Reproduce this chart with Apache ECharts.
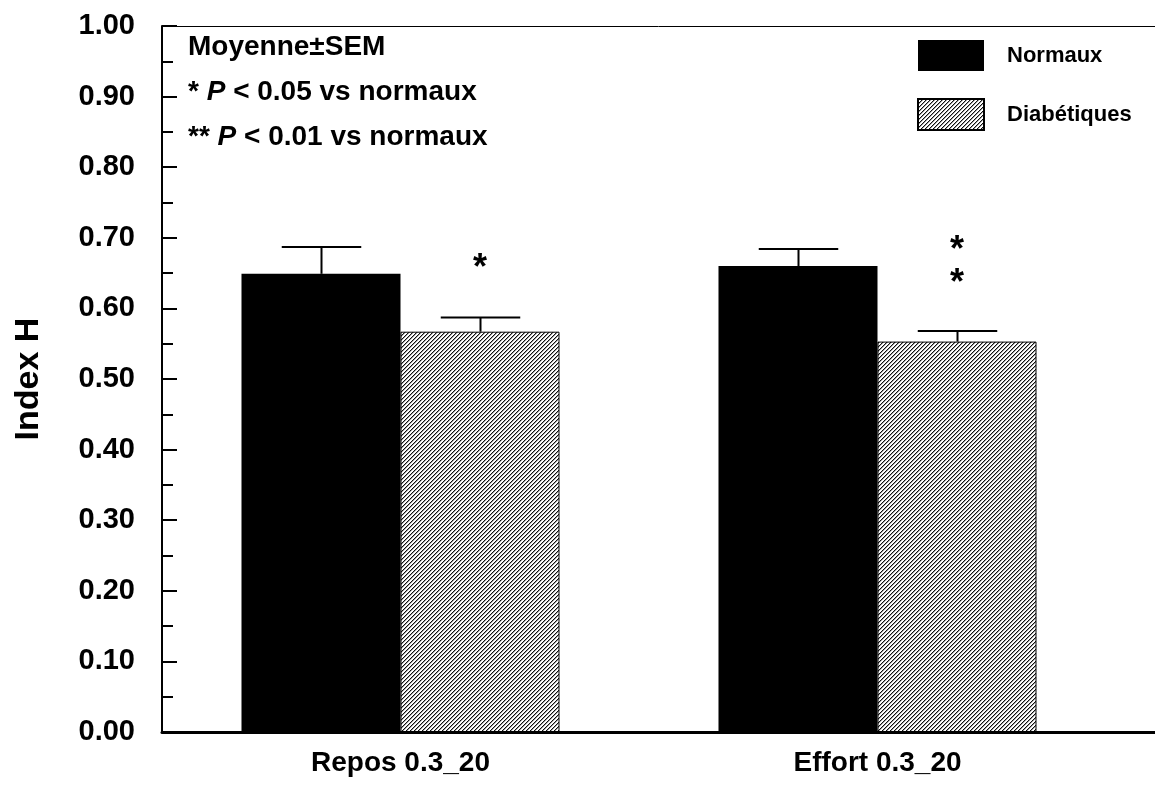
<!DOCTYPE html>
<html>
<head>
<meta charset="utf-8">
<script src="https://cdn.jsdelivr.net/npm/echarts@6/dist/echarts.min.js"></script>
<style>
html,body{margin:0;padding:0;background:#fff;}
#chart{width:1155px;height:786px;}
</style>
</head>
<body>
<div id="chart"></div>
<script>
// ---- data ----
const categories = ['Repos 0.3_20', 'Effort 0.3_20'];
const normaux = [0.649, 0.660];
const normauxSEM = [0.038, 0.024];
const diabetiques = [0.567, 0.553];
const diabetiquesSEM = [0.020, 0.015];
// significance markers: category index, y position (data units), text
const starCat = [0, 1, 1];
const starY = [0.656, 0.681, 0.635];
const starText = ['*', '*', '*'];
const notes = ['Moyenne\u00b1SEM', '* {it|P} < 0.05 vs normaux', '** {it|P} < 0.01 vs normaux'];
const yTickLabels = ['0.00','0.10','0.20','0.30','0.40','0.50','0.60','0.70','0.80','0.90','1.00'];

const FONT = '"Liberation Sans", Arial, sans-serif';

function hatch() {
  const n = 4;
  const c = document.createElement('canvas');
  c.width = n; c.height = n;
  const ctx = c.getContext('2d');
  const img = ctx.createImageData(n, n);
  for (let y = 0; y < n; y++) {
    for (let x = 0; x < n; x++) {
      const k = (x + y) % n;
      const v = k === 0 ? 15 : (k === 1 ? 160 : 255);
      const i = (y * n + x) * 4;
      img.data[i] = v; img.data[i+1] = v; img.data[i+2] = v; img.data[i+3] = 255;
    }
  }
  ctx.putImageData(img, 0, 0);
  return c;
}
const hatchPattern = { image: hatch(), repeat: 'repeat' };

function errRender(side) {
  return function (params, api) {
    const x = api.value(0), m = api.value(1), s = api.value(2);
    const band = api.size([1, 0])[0];
    const off = side * band / 6;
    const half = band / 12;
    const p0 = api.coord([x, m]);
    const p1 = api.coord([x, m + s]);
    const cx = Math.round(p0[0] + off) + 0.5;
    return {
      type: 'group',
      children: [
        { type: 'line', shape: { x1: cx, y1: p0[1], x2: cx, y2: p1[1] }, style: { stroke: '#000', lineWidth: 2 } },
        { type: 'line', shape: { x1: cx - half, y1: p1[1], x2: cx + half, y2: p1[1] }, style: { stroke: '#000', lineWidth: 2 } }
      ]
    };
  };
}

function starRender(params, api) {
  const x = api.value(0), y = api.value(1);
  const band = api.size([1, 0])[0];
  const p = api.coord([x, y]);
  return {
    type: 'text',
    x: p[0] + band / 6,
    y: p[1],
    style: {
      text: starText[params.dataIndex],
      font: 'bold 36px ' + FONT,
      fill: '#000',
      align: 'center',
      verticalAlign: 'middle'
    }
  };
}

const chart = echarts.init(document.getElementById('chart'), null, { renderer: 'canvas' });
const gridLeft = 162, gridRight = 39, gridTop = 26, gridBottom = 54;
const noteY = [47, 92, 137];

const noteGraphics = notes.map((t, i) => ({
  type: 'text',
  x: 188,
  y: noteY[i],
  style: {
    text: t,
    font: 'bold 28px ' + FONT,
    fill: '#000',
    verticalAlign: 'middle',
    rich: { it: { fontStyle: 'italic', fontWeight: 'bold', fontSize: 28, fontFamily: FONT } }
  }
}));

chart.setOption({
  animation: false,
  backgroundColor: '#fff',
  grid: { left: gridLeft, right: gridRight, top: gridTop, bottom: gridBottom, containLabel: false },
  legend: {
    orient: 'vertical',
    left: 912,
    top: 35,
    itemWidth: 66,
    itemHeight: 31,
    itemGap: 27,
    icon: 'rect',
    data: ['Normaux', 'Diabétiques'],
    textStyle: { fontFamily: FONT, fontSize: 22, fontWeight: 'bold', color: '#000', padding: [2, 0, 0, 18] }
  },
  xAxis: {
    type: 'category',
    data: categories,
    axisLine: { show: true, lineStyle: { color: '#000', width: 3 } },
    axisTick: { show: false },
    axisLabel: { fontFamily: FONT, fontSize: 28, fontWeight: 'bold', color: '#000', margin: 17 },
    splitLine: { show: false }
  },
  yAxis: {
    type: 'value',
    min: 0, max: 1, interval: 0.1,
    name: 'Index H',
    nameLocation: 'middle',
    nameGap: 116,
    nameRotate: 90,
    nameTextStyle: { fontFamily: FONT, fontSize: 34, fontWeight: 'bold', color: '#000' },
    axisLine: { show: true, lineStyle: { color: '#000', width: 2 } },
    axisTick: { show: true, inside: true, length: 15, lineStyle: { color: '#000', width: 2 } },
    minorTick: { show: true, splitNumber: 2, length: 11, lineStyle: { color: '#000', width: 2 } },
    axisLabel: {
      fontFamily: FONT, fontSize: 29, fontWeight: 'bold', color: '#000', margin: 27,
      formatter: function (v) { return yTickLabels[Math.round(v * 10)]; }
    },
    splitLine: { show: false }
  },
  series: [
    {
      name: 'Normaux', type: 'bar', data: normaux,
      barGap: 0, barCategoryGap: '33.33%',
      itemStyle: { color: '#000', borderColor: '#000', borderWidth: 0 },
      z: 2
    },
    {
      name: 'Diabétiques', type: 'bar', data: diabetiques,
      barGap: 0, barCategoryGap: '33.33%',
      itemStyle: { color: hatchPattern, borderColor: '#000', borderWidth: 1 },
      z: 2
    },
    {
      type: 'custom', name: 'errN', renderItem: errRender(-1),
      data: normaux.map((v, i) => [i, v, normauxSEM[i]]),
      encode: { x: 0, y: 1 }, z: 3, silent: true
    },
    {
      type: 'custom', name: 'errD', renderItem: errRender(1),
      data: diabetiques.map((v, i) => [i, v, diabetiquesSEM[i]]),
      encode: { x: 0, y: 1 }, z: 3, silent: true
    },
    {
      type: 'custom', name: 'stars', renderItem: starRender,
      data: starCat.map((c, i) => [c, starY[i]]),
      encode: { x: 0, y: 1 }, z: 4, silent: true
    }
  ],
  graphic: noteGraphics.concat([
    { type: 'line', shape: { x1: gridLeft, y1: gridTop + 0.5, x2: 1155, y2: gridTop + 0.5 }, style: { stroke: '#000', lineWidth: 1 }, z: 10 },
    { type: 'line', shape: { x1: 1155 - gridRight, y1: 786 - gridBottom + 0.5, x2: 1155, y2: 786 - gridBottom + 0.5 }, style: { stroke: '#000', lineWidth: 3 }, z: 10 }
  ])
});
</script>
</body>
</html>
